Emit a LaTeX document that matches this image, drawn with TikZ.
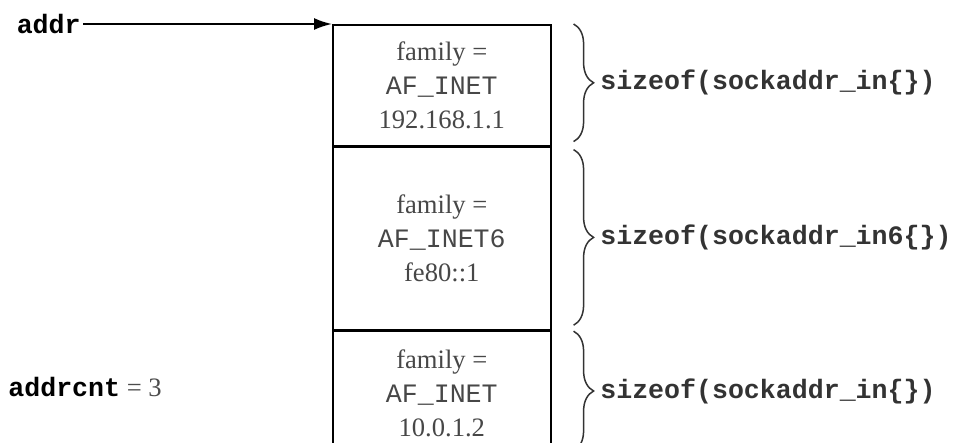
\documentclass[tikz,border=0pt]{standalone}
\usepackage{fontspec}
\setmainfont{Liberation Serif}
\setmonofont{Liberation Mono}
\usetikzlibrary{positioning, arrows.meta, decorations.pathreplacing, calc}

\begin{document}
\begin{tikzpicture}[
    x=0.5pt, y=-0.5pt,
    cell/.style={draw, line width=0.8pt, rectangle, minimum width=109pt, align=center, inner sep=0pt,
        text=black!72, font=\fontsize{13.3}{17}\selectfont},
    lbl/.style={inner sep=1pt, font=\fontsize{13.3}{16}\selectfont},
    arrow/.style={-{Latex[length=9pt, width=6pt]}, line width=1pt},
    szbrace/.style={decorate, decoration={brace, amplitude=10pt}, line width=0.75pt, black!80}
]
    \useasboundingbox (0,0) rectangle (954,443);
    \clip (0,0) rectangle (954,443);

    \node[cell, anchor=north west, minimum height=60.5pt] (cell1) at (332,24) {family =\\\texttt{AF\_INET}\\192.168.1.1};
    \node[cell, below=0pt of cell1, minimum height=91pt] (cell2) {family =\\\texttt{AF\_INET6}\\fe80::1};
    \node[cell, below=0pt of cell2, minimum height=62pt] (cell3) {family =\\\texttt{AF\_INET}\\10.0.1.2};

    \node[lbl, anchor=east] (addr) at (83,24) {\ttfamily\bfseries addr};
    \node[lbl, anchor=west] (cnt) at (6,387) {{\ttfamily\bfseries addrcnt} {\color{black!70}= 3}};

    \draw[arrow] (addr) -- (cell1.north west);

    \draw[szbrace] ($(cell1.north east)+(22,0)$) -- ($(cell1.south east)+(22,-5)$)
        node[lbl, midway, right=12pt] (sz1) {\ttfamily\bfseries sizeof(sockaddr\_in\{\})};
    \draw[szbrace] ($(cell2.north east)+(22,3)$) -- ($(cell2.south east)+(22,-5)$)
        node[lbl, midway, right=12pt] (sz2) {\ttfamily\bfseries sizeof(sockaddr\_in6\{\})};
    \draw[szbrace] ($(cell3.north east)+(22,1)$) -- ($(cell3.south east)+(22,-5)$)
        node[lbl, midway, right=12pt] (sz3) {\ttfamily\bfseries sizeof(sockaddr\_in\{\})};
\end{tikzpicture}
\end{document}
